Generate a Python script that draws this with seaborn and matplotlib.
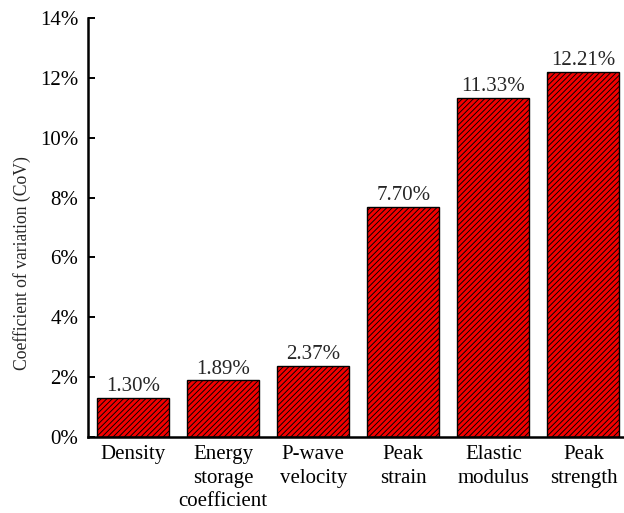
import matplotlib
matplotlib.use("Agg")
import matplotlib.pyplot as plt
import seaborn as sns
import pandas as pd
from matplotlib.ticker import FuncFormatter, MultipleLocator

categories = ["Density", "Energy\nstorage\ncoefficient", "P-wave\nvelocity",
              "Peak\nstrain", "Elastic\nmodulus", "Peak\nstrength"]
cov_values = [1.30, 1.89, 2.37, 7.70, 11.33, 12.21]

df = pd.DataFrame({"parameter": categories, "cov": cov_values})

sns.set_theme(style="ticks")
plt.rcParams["font.family"] = ["Liberation Serif", "DejaVu Serif"]
plt.rcParams["hatch.linewidth"] = 0.65
plt.rcParams["hatch.color"] = "black"

fig = plt.figure(figsize=(6.24, 5.13), dpi=100)
ax = fig.add_axes([0.141, 0.148, 0.859, 0.817])

sns.barplot(data=df, x="parameter", y="cov", color="#f20000", width=0.8,
            saturation=1, edgecolor="black", linewidth=1.0, ax=ax)
for bar in ax.patches:
    bar.set_hatch("//////")

for i, v in enumerate(cov_values):
    ax.text(i, v + 0.06, f"{v:.2f}%", ha="center", va="bottom", fontsize=15)

ax.set_ylim(0, 14)
ax.set_xlim(-0.5, 5.45)
ax.yaxis.set_major_locator(MultipleLocator(2))
ax.yaxis.set_major_formatter(FuncFormatter(lambda y, _: f"{y:.0f}%"))
ax.set_xlabel("")
ax.set_ylabel("Coefficient of variation (CoV)", fontsize=12.7)
ax.yaxis.set_label_coords(-0.106, 0.415)
ax.tick_params(axis="both", direction="in", labelsize=15, length=5, width=1.4,
               colors="black")
ax.tick_params(axis="y", pad=7)
ax.tick_params(axis="x", pad=6)
for lbl in ax.get_xticklabels():
    lbl.set_linespacing(1.32)
for s in ["top", "right"]:
    ax.spines[s].set_visible(False)
for s in ["left", "bottom"]:
    ax.spines[s].set_linewidth(1.8)
    ax.spines[s].set_color("black")

fig.savefig("out.png", dpi=100)
